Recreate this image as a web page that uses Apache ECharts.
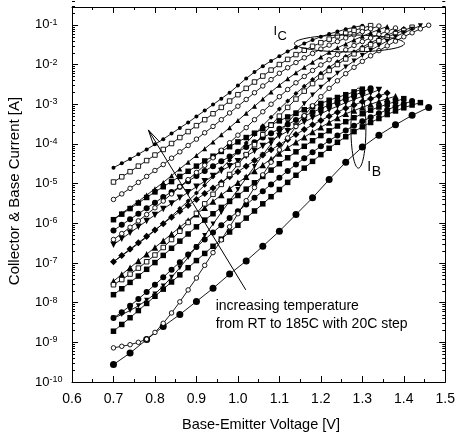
<!DOCTYPE html>
<html><head><meta charset="utf-8">
<script src="https://cdn.jsdelivr.net/npm/echarts@6/dist/echarts.min.js"></script>
<style>html,body{margin:0;padding:0;background:#fff}#c{width:458px;height:438px}</style>
</head><body><div id="c"></div>
<script>
// Base-emitter voltage grids [V]
const vFine = [0.70,0.72,0.74,0.76,0.78,0.80,0.82,0.84,0.86,0.88,0.90,0.92,0.94,0.96,0.98,1.00,1.02,1.04,1.06,1.08,1.10,1.12,1.14,1.16,1.18,1.20,1.22,1.24,1.26,1.28,1.30,1.32,1.34,1.36,1.38,1.40,1.42,1.44,1.46];
const vCoarse = [0.70,0.74,0.78,0.82,0.86,0.90,0.94,0.98,1.02,1.06,1.10,1.14,1.18,1.22,1.26,1.30,1.34,1.38,1.42,1.46];

// Collector current, log10(I/A), per temperature
const icLog185 = [-4.60,-4.49,-4.38,-4.26,-4.14,-4.01,-3.88,-3.74,-3.60,-3.46,-3.31,-3.16,-3.01,-2.86,-2.71,-2.53,-2.35,-2.19,-2.04,-1.91,-1.79,-1.67,-1.57,-1.47,-1.38,-1.30,-1.23,-1.17,-1.11,-1.06,-1.02];
const icLog165 = [-4.96,-4.83,-4.70,-4.56,-4.42,-4.28,-4.14,-3.99,-3.84,-3.69,-3.54,-3.39,-3.24,-3.08,-2.92,-2.76,-2.60,-2.44,-2.29,-2.14,-2.00,-1.87,-1.75,-1.64,-1.54,-1.45,-1.36,-1.28,-1.21,-1.14,-1.08,-1.02];
const icLog145 = [-5.40,-5.26,-5.12,-4.97,-4.82,-4.67,-4.52,-4.36,-4.20,-4.04,-3.88,-3.72,-3.56,-3.39,-3.22,-3.05,-2.88,-2.71,-2.54,-2.38,-2.22,-2.08,-1.95,-1.83,-1.72,-1.61,-1.51,-1.42,-1.33,-1.25,-1.17,-1.10,-1.03];
const icLog125 = [-5.90,-5.75,-5.60,-5.45,-5.29,-5.13,-4.97,-4.80,-4.63,-4.46,-4.29,-4.12,-3.95,-3.77,-3.59,-3.41,-3.23,-3.05,-2.87,-2.69,-2.52,-2.36,-2.21,-2.07,-1.94,-1.81,-1.69,-1.58,-1.48,-1.38,-1.29,-1.20,-1.12,-1.04];
const icLog105 = [-6.41,-6.26,-6.10,-5.94,-5.78,-5.61,-5.44,-5.26,-5.08,-4.90,-4.72,-4.54,-4.35,-4.16,-3.97,-3.78,-3.59,-3.39,-3.19,-3.00,-2.81,-2.63,-2.46,-2.30,-2.15,-2.01,-1.88,-1.75,-1.63,-1.52,-1.42,-1.33,-1.24,-1.16,-1.08];
const icLog85 = [-6.97,-6.82,-6.67,-6.51,-6.35,-6.18,-6.00,-5.82,-5.63,-5.44,-5.24,-5.04,-4.83,-4.62,-4.41,-4.20,-3.98,-3.76,-3.54,-3.33,-3.12,-2.92,-2.73,-2.55,-2.38,-2.22,-2.07,-1.93,-1.80,-1.68,-1.56,-1.45,-1.35,-1.26,-1.17,-1.09];
const icLog65 = [-7.55,-7.42,-7.28,-7.13,-6.97,-6.80,-6.61,-6.41,-6.20,-5.98,-5.75,-5.51,-5.27,-5.02,-4.77,-4.52,-4.27,-4.02,-3.77,-3.53,-3.30,-3.08,-2.87,-2.67,-2.48,-2.31,-2.15,-2.00,-1.86,-1.73,-1.61,-1.50,-1.40,-1.31,-1.22,-1.14,-1.06];
const icLog45 = [-8.39,-8.30,-8.20,-8.08,-7.94,-7.78,-7.58,-7.36,-7.12,-6.86,-6.59,-6.31,-6.02,-5.73,-5.44,-5.15,-4.86,-4.57,-4.28,-4.00,-3.73,-3.47,-3.22,-2.99,-2.77,-2.57,-2.39,-2.22,-2.06,-1.91,-1.77,-1.64,-1.52,-1.41,-1.30,-1.20,-1.11,-1.02];
const icLog25 = [-9.14,-9.10,-9.06,-9.00,-8.92,-8.75,-8.52,-8.26,-7.98,-7.68,-7.38,-7.06,-6.74,-6.42,-6.09,-5.76,-5.43,-5.10,-4.78,-4.46,-4.15,-3.85,-3.56,-3.29,-3.04,-2.81,-2.60,-2.41,-2.23,-2.07,-1.92,-1.78,-1.65,-1.53,-1.41,-1.30,-1.20,-1.10,-1.01];

// Base current, log10(I/A)
const ibLog185 = [-5.91,-5.77,-5.63,-5.49,-5.35,-5.21,-5.08,-4.95,-4.82,-4.69,-4.56,-4.43,-4.31,-4.19,-4.07,-3.95,-3.84,-3.73,-3.62,-3.52,-3.42,-3.32,-3.23,-3.14,-3.06,-2.98,-2.90,-2.83,-2.76,-2.69,-2.62];
const ibLog165 = [-6.18,-6.04,-5.90,-5.76,-5.62,-5.48,-5.34,-5.21,-5.08,-4.94,-4.81,-4.68,-4.56,-4.44,-4.32,-4.20,-4.08,-3.96,-3.84,-3.73,-3.62,-3.51,-3.40,-3.30,-3.20,-3.11,-3.02,-2.94,-2.86,-2.78,-2.69,-2.60];
const ibLog145 = [-6.54,-6.39,-6.24,-6.09,-5.94,-5.79,-5.64,-5.50,-5.36,-5.22,-5.08,-4.94,-4.81,-4.68,-4.56,-4.44,-4.31,-4.18,-4.05,-3.92,-3.80,-3.68,-3.56,-3.45,-3.34,-3.24,-3.14,-3.05,-2.96,-2.88,-2.80,-2.72,-2.64];
const ibLog125 = [-6.97,-6.81,-6.65,-6.49,-6.33,-6.17,-6.01,-5.85,-5.70,-5.55,-5.40,-5.25,-5.11,-4.97,-4.83,-4.70,-4.56,-4.42,-4.28,-4.15,-4.02,-3.89,-3.76,-3.64,-3.52,-3.41,-3.30,-3.20,-3.10,-3.02,-2.94,-2.86,-2.79,-2.72];
const ibLog105 = [-7.46,-7.29,-7.12,-6.95,-6.78,-6.61,-6.44,-6.27,-6.10,-5.93,-5.77,-5.61,-5.45,-5.29,-5.13,-4.98,-4.83,-4.68,-4.53,-4.38,-4.24,-4.10,-3.96,-3.83,-3.70,-3.58,-3.46,-3.35,-3.24,-3.16,-3.08,-3.00,-2.93,-2.86,-2.80];
const ibLog85 = [-7.80,-7.65,-7.49,-7.33,-7.16,-6.99,-6.81,-6.63,-6.45,-6.27,-6.09,-5.92,-5.76,-5.60,-5.45,-5.30,-5.14,-4.98,-4.82,-4.66,-4.50,-4.35,-4.20,-4.06,-3.92,-3.79,-3.67,-3.55,-3.44,-3.34,-3.24,-3.15,-3.07,-3.00,-2.93,-2.86];
const ibLog65 = [-8.39,-8.24,-8.08,-7.91,-7.73,-7.55,-7.36,-7.17,-6.98,-6.79,-6.60,-6.41,-6.23,-6.05,-5.87,-5.70,-5.53,-5.36,-5.19,-5.02,-4.85,-4.68,-4.52,-4.36,-4.21,-4.06,-3.92,-3.79,-3.66,-3.54,-3.43,-3.33,-3.23,-3.14,-3.06,-2.99,-2.92];
const ibLog45 = [-8.72,-8.55,-8.38,-8.20,-8.02,-7.84,-7.66,-7.48,-7.30,-7.12,-6.94,-6.76,-6.58,-6.40,-6.22,-6.05,-5.87,-5.69,-5.51,-5.33,-5.15,-4.97,-4.79,-4.61,-4.44,-4.27,-4.11,-3.96,-3.82,-3.69,-3.57,-3.46,-3.36,-3.26,-3.17,-3.09,-3.02,-2.96];
const ibLog25 = [-9.56,-9.27,-8.93,-8.60,-8.30,-7.97,-7.64,-7.28,-6.95,-6.58,-6.20,-5.78,-5.36,-4.90,-4.46,-4.08,-3.78,-3.52,-3.28,-3.08];

// Axis ticks
const xTicks = [0.6,0.7,0.8,0.9,1.0,1.1,1.2,1.3,1.4,1.5];
const yMinorMant = [2,3,4,5,6,7,8,9];
const yDecades = [-10,-9,-8,-7,-6,-5,-4,-3,-2,-1];

// Annotation anchors in data coordinates
const arrowTip = [0.784, 2.25e-4];
const arrowTail = [1.019, 2.1e-8];
const noteAt = [0.9465, 8.3e-9];
const noteLines = ['increasing temperature', 'from RT to 185C with 20C step'];
const icLabelAt = [1.086, 0.0667];
const ibLabelAt = [1.312, 2.63e-5];
const icEllipseAt = [1.269, 0.034];
const ibEllipseAt = [1.2906, 2.5e-4];

const FONT = '"Liberation Sans", Arial, Helvetica, sans-serif';
const X_MIN = 0.6, X_MAX = 1.5;
const Y_MIN = 1e-10, Y_MAX = Math.pow(10, -0.55);

function curve(xs, logs, sym, size, open, rot) {
  return {
    type: 'line', xAxisIndex: 0, yAxisIndex: 0,
    data: logs.map((l, i) => [xs[i], Math.pow(10, l)]),
    symbol: sym, symbolSize: size, symbolRotate: rot || 0, showSymbol: true,
    lineStyle: { color: '#000', width: 0.9 },
    itemStyle: { color: open ? '#fff' : '#000', borderColor: '#000', borderWidth: open ? 0.9 : 0 },
    emphasis: { disabled: true }, silent: true, animation: false
  };
}

const yMinor = [];
yDecades.forEach(d => yMinorMant.forEach(m => yMinor.push(m * Math.pow(10, d))));
yMinor.push(0.2);

const series = [
  curve(vFine, ibLog185, 'rect', 5.5, false),
  curve(vFine, ibLog165, 'circle', 6, false),
  curve(vFine, ibLog145, 'triangle', 6.5, false, 180),
  curve(vFine, ibLog125, 'diamond', 7, false),
  curve(vFine, ibLog105, 'triangle', 6.5, false),
  curve(vFine, ibLog85, 'rect', 5.5, false),
  curve(vFine, ibLog65, 'circle', 6, false),
  curve(vFine, ibLog45, 'rect', 5.5, false),
  curve(vCoarse, ibLog25, 'circle', 7, false),
  curve(vFine, icLog185, 'circle', 4, false),
  curve(vFine, icLog165, 'rect', 4.5, true),
  curve(vFine, icLog145, 'circle', 4.5, true),
  curve(vFine, icLog125, 'triangle', 5, false),
  curve(vFine, icLog105, 'circle', 4.5, true),
  curve(vFine, icLog85, 'diamond', 5, false),
  curve(vFine, icLog65, 'rect', 4.5, true),
  curve(vFine, icLog45, 'triangle', 5, false, 180),
  curve(vFine, icLog25, 'circle', 4.5, true),
  {
    type: 'custom', xAxisIndex: 0, yAxisIndex: 0, silent: true, animation: false,
    data: yMinor.map(v => [X_MIN, v]),
    renderItem: function (params, api) {
      const v = api.value(1);
      const l = api.coord([X_MIN, v]);
      const r = api.coord([X_MAX, v]);
      const y = Math.round(l[1]) + 0.5;
      return { type: 'group', children: [
        { type: 'line', shape: { x1: l[0], y1: y, x2: l[0] + 3, y2: y }, style: { stroke: '#000', lineWidth: 1 } },
        { type: 'line', shape: { x1: r[0] - 3, y1: y, x2: r[0], y2: y }, style: { stroke: '#000', lineWidth: 1 } }
      ] };
    }
  }
];

const axisLineStyle = { show: true, lineStyle: { color: '#000', width: 1 } };
const option = {
  backgroundColor: '#fff',
  animation: false,
  grid: { left: 72, right: 12, top: 7, bottom: 56, containLabel: false },
  xAxis: [
    { type: 'value', position: 'bottom', min: X_MIN, max: X_MAX, interval: 0.1,
      axisLine: axisLineStyle, splitLine: { show: false },
      axisTick: { show: true, inside: true, length: 6, lineStyle: { color: '#000' } },
      minorTick: { show: true, splitNumber: 2, length: 3, lineStyle: { color: '#000' } },
      axisLabel: { color: '#000', fontSize: 14, fontFamily: FONT, margin: 10,
        formatter: v => v.toFixed(1) } },
    { type: 'value', position: 'top', min: X_MIN, max: X_MAX, interval: 0.1,
      axisLine: axisLineStyle, splitLine: { show: false },
      axisTick: { show: true, inside: true, length: 6, lineStyle: { color: '#000' } },
      minorTick: { show: true, splitNumber: 2, length: 3, lineStyle: { color: '#000' } },
      axisLabel: { show: false } }
  ],
  yAxis: [
    { type: 'log', logBase: 10, position: 'left', min: Y_MIN, max: Y_MAX, splitNumber: 10,
      axisLine: axisLineStyle, splitLine: { show: false },
      axisTick: { show: true, inside: true, length: 6, lineStyle: { color: '#000' } },
      axisLabel: { color: '#000', align: 'left', margin: 37, showMaxLabel: false,
        formatter: v => '{b|10}{s|' + Math.round(Math.log10(v)) + '}',
        rich: {
          b: { fontSize: 13, fontFamily: FONT, color: '#000', lineHeight: 14 },
          s: { fontSize: 9, fontFamily: FONT, color: '#000', lineHeight: 9, verticalAlign: 'top' }
        } } },
    { type: 'log', logBase: 10, position: 'right', min: Y_MIN, max: Y_MAX, splitNumber: 10,
      axisLine: axisLineStyle, splitLine: { show: false },
      axisTick: { show: true, inside: true, length: 6, lineStyle: { color: '#000' } },
      axisLabel: { show: false } }
  ],
  series: series
};

const chart = echarts.init(document.getElementById('c'), null, { renderer: 'canvas', width: 458, height: 438 });
chart.setOption(option);

const px = c => chart.convertToPixel({ seriesIndex: 0 }, c);
const tip = px(arrowTip), tail = px(arrowTail);
const ang = Math.atan2(tail[1] - tip[1], tail[0] - tip[0]);
const bl = 17, spread = 12 * Math.PI / 180;
const b1 = [tip[0] + bl * Math.cos(ang - spread), tip[1] + bl * Math.sin(ang - spread)];
const b2 = [tip[0] + bl * Math.cos(ang + spread), tip[1] + bl * Math.sin(ang + spread)];
const note = px(noteAt), icL = px(icLabelAt), ibL = px(ibLabelAt);
const icE = px(icEllipseAt), ibE = px(ibEllipseAt);

function txt(x, y, s, size, extra) {
  return Object.assign({ type: 'text', x: x, y: y, z: 100,
    style: { text: s, fontSize: size, fontFamily: FONT, fill: '#000',
      align: 'left', verticalAlign: 'middle', textAlign: 'left', textVerticalAlign: 'middle' } }, extra || {});
}

chart.setOption({
  graphic: [
    { type: 'line', z: 100, shape: { x1: tail[0], y1: tail[1], x2: tip[0], y2: tip[1] }, style: { stroke: '#000', lineWidth: 1 } },
    { type: 'polyline', z: 100, shape: { points: [b1, tip, b2] }, style: { stroke: '#000', fill: null, lineWidth: 1 } },
    txt(note[0], note[1], noteLines[0], 14),
    txt(note[0], note[1] + 18, noteLines[1], 14),
    txt(icL[0], icL[1], 'I', 13),
    txt(icL[0] + 4, icL[1] + 5, 'C', 13),
    txt(ibL[0], ibL[1], 'I', 14),
    txt(ibL[0] + 4.5, ibL[1] + 5, 'B', 14),
    { type: 'ellipse', z: 100, shape: { cx: icE[0], cy: icE[1], rx: 55, ry: 8.5 }, style: { stroke: '#000', fill: null, lineWidth: 1 } },
    { type: 'ellipse', z: 100, shape: { cx: ibE[0], cy: ibE[1], rx: 7.5, ry: 40 }, style: { stroke: '#000', fill: null, lineWidth: 1 } },
    { type: 'text', z: 100, x: 261, y: 425,
      style: { text: 'Base-Emitter Voltage [V]', fontSize: 14.5, fontFamily: FONT, fill: '#000',
        align: 'center', verticalAlign: 'middle', textAlign: 'center', textVerticalAlign: 'middle' } },
    { type: 'text', z: 100, x: 15, y: 191, rotation: Math.PI / 2,
      style: { text: 'Collector & Base Current [A]', fontSize: 15, fontFamily: FONT, fill: '#000',
        align: 'center', verticalAlign: 'middle', textAlign: 'center', textVerticalAlign: 'middle' } }
  ]
});
</script>
</body></html>
